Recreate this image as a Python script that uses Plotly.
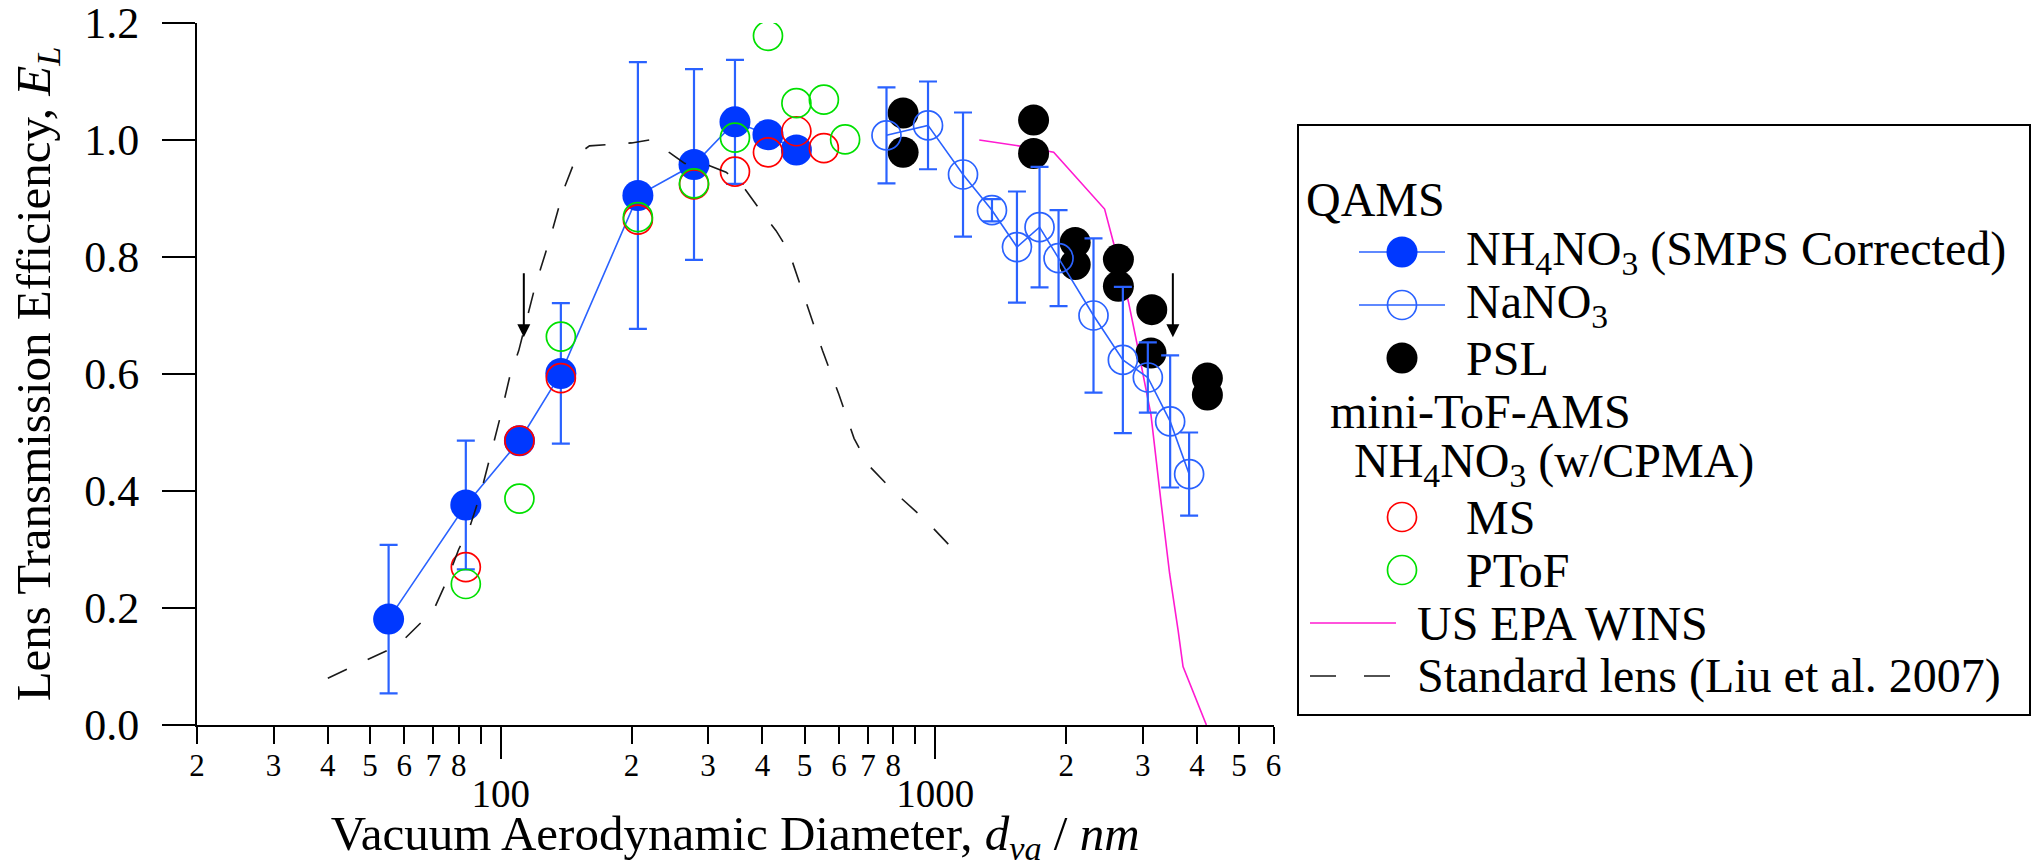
import math
import plotly.graph_objects as go

# ---------------- data ----------------
# QAMS, NH4NO3 (SMPS corrected)
nh4_d = [55.2, 83.1, 110.4, 137.5, 206.8, 278.4, 345.9, 412.0, 479.0]
nh4_el = [0.181, 0.376, 0.486, 0.601, 0.905, 0.958, 1.031, 1.009, 0.983]
nh4_err = [0.127, 0.110, None, 0.120, 0.228, 0.163, 0.106, None, None]

# QAMS, NaNO3
nano3_d = [772, 962, 1158, 1350, 1541, 1737, 1921, 2312, 2701, 3083, 3470, 3837]
nano3_el = [1.008, 1.025, 0.941, 0.880, 0.817, 0.851, 0.798, 0.700, 0.624, 0.594, 0.519, 0.429]
nano3_err = [0.082, 0.075, 0.106, 0.019, 0.095, 0.103, 0.082, 0.132, 0.125, 0.060, 0.113, 0.071]

# QAMS, PSL
psl_d = [843, 843, 1683, 1683, 2098, 2098, 2638, 2638, 3148, 3135, 4227, 4227]
psl_el = [1.046, 0.979, 1.034, 0.977, 0.825, 0.787, 0.796, 0.750, 0.710, 0.636, 0.593, 0.564]

# mini-ToF-AMS, NH4NO3 with CPMA
ms_d = [83.1, 110.4, 137.5, 206.8, 278.4, 345.9, 412.0, 479.0, 554.0]
ms_el = [0.270, 0.486, 0.593, 0.864, 0.924, 0.946, 0.979, 1.015, 0.986]
ptof_d = [83.1, 110.4, 137.5, 206.8, 278.4, 345.9, 412.0, 479.0, 554.0, 620.0]
ptof_el = [0.241, 0.387, 0.664, 0.868, 0.926, 1.004, 1.178, 1.063, 1.069, 1.001]

# US EPA WINS impactor
wins_d = [1262, 1555, 1872, 2452, 2584, 2781, 2909, 3135, 3309, 3460, 3619, 3715, 4205]
wins_el = [1.000, 0.990, 0.979, 0.882, 0.818, 0.724, 0.653, 0.530, 0.379, 0.259, 0.162, 0.100, 0.000]

# Standard lens (Liu et al. 2007)
std_d = [40, 55, 60, 70, 75, 80, 85, 90, 95, 100, 105, 110, 120, 130, 140, 150, 160,
         200, 220, 245, 265, 300, 330, 360, 400, 430, 460, 500, 550, 600, 650, 700,
         800, 950, 1100]
std_el = [0.080, 0.128, 0.147, 0.196, 0.245, 0.300, 0.340, 0.397, 0.465, 0.530, 0.597,
          0.640, 0.750, 0.833, 0.918, 0.975, 0.990, 0.995, 1.000, 0.978, 0.960, 0.957,
          0.945, 0.922, 0.875, 0.845, 0.810, 0.730, 0.640, 0.565, 0.490, 0.445,
          0.400, 0.350, 0.300]

# marked cut-off diameters
arrow_d = [113, 3520]
arrow_from, arrow_to = 0.775, 0.663

# axis ticks
label_vals = [20, 30, 40, 50, 60, 70, 80, 200, 300, 400, 500, 600, 700, 800,
              2000, 3000, 4000, 5000, 6000]
label_text = ["2", "3", "4", "5", "6", "7", "8", "2", "3", "4", "5", "6", "7", "8",
              "2", "3", "4", "5", "6"]
unlabelled_vals = [90, 900]
major_vals = [100, 1000]
major_text = ["100", "1000"]
y_ticks = [0.0, 0.2, 0.4, 0.6, 0.8, 1.0, 1.2]

# ---------------- styles ----------------
FONT = "Liberation Serif"
BLUE_FILL = "#0038ff"
BLUE_LINE = "#2a62ff"
RED = "#ff0000"
GREEN = "#00e000"
MAGENTA = "#ff1ad1"
DASH_COL = "#1a1a1a"
MSIZE = 31

W, H = 2036, 867
M_L, M_R, M_T, M_B = 197, 6, 23, 142
PW = W - M_L - M_R
PH = H - M_T - M_B
X_END = 1273.5                      # right end of the data axis (px)
LEG_X0, LEG_X1, LEG_Y0, LEG_Y1 = 1298, 2030, 125, 715
x_dom = [0, (X_END - M_L) / PW]
leg_xdom = [(LEG_X0 - M_L) / PW, (LEG_X1 - M_L) / PW]
leg_ydom = [(H - M_B - LEG_Y1) / PH, (H - M_B - LEG_Y0) / PH]
LEG_W, LEG_H = LEG_X1 - LEG_X0, LEG_Y1 - LEG_Y0

fig = go.Figure()

# the dashed curve also carries the long-tick decade axis (x2)
fig.add_trace(go.Scatter(x=std_d, y=std_el, mode="lines", xaxis="x2", yaxis="y",
                         line=dict(color=DASH_COL, width=1.6, dash="21px,23px"),
                         showlegend=False))
fig.add_trace(go.Scatter(x=wins_d, y=wins_el, mode="lines",
                         line=dict(color=MAGENTA, width=1.6), showlegend=False))
fig.add_trace(go.Scatter(x=psl_d, y=psl_el, mode="markers",
                         marker=dict(size=MSIZE, color="black", line=dict(width=0)),
                         showlegend=False))
fig.add_trace(go.Scatter(x=nano3_d, y=nano3_el, mode="lines+markers",
                         line=dict(color=BLUE_LINE, width=1.6),
                         marker=dict(size=MSIZE - 2, symbol="circle-open",
                                     color=BLUE_LINE, line=dict(width=1.7)),
                         error_y=dict(type="data", array=nano3_err, color=BLUE_LINE,
                                      thickness=2.2, width=9),
                         showlegend=False))
fig.add_trace(go.Scatter(x=nh4_d, y=nh4_el, mode="lines+markers",
                         line=dict(color=BLUE_LINE, width=1.6),
                         marker=dict(size=MSIZE, color=BLUE_FILL, line=dict(width=0)),
                         error_y=dict(type="data", array=nh4_err, color=BLUE_LINE,
                                      thickness=2.2, width=9),
                         showlegend=False))
fig.add_trace(go.Scatter(x=ms_d, y=ms_el, mode="markers",
                         marker=dict(size=MSIZE - 2, symbol="circle-open", color=RED,
                                     line=dict(width=1.7)),
                         showlegend=False))
fig.add_trace(go.Scatter(x=ptof_d, y=ptof_el, mode="markers",
                         marker=dict(size=MSIZE - 2, symbol="circle-open", color=GREEN,
                                     line=dict(width=1.7)),
                         showlegend=False))

annotations = []
for d in arrow_d:
    annotations.append(dict(x=math.log10(d), y=arrow_to, ax=math.log10(d), ay=arrow_from,
                            xref="x", yref="y", axref="x", ayref="y", text="",
                            showarrow=True, arrowhead=2, arrowsize=1.3, arrowwidth=2,
                            arrowcolor="black"))

# ---------------- hand-laid legend box ----------------
leg_axes = dict(xaxis="x3", yaxis="y3", showlegend=False, hoverinfo="skip")
rows = [74 + 53 * i for i in range(10)]
sub = "NH<sub>4</sub>NO<sub>3</sub>"
LF = 48


def leg_text(x, y, txt):
    annotations.append(dict(x=x, y=y, xref="x3", yref="y3", text=txt, showarrow=False,
                            xanchor="left", yanchor="middle",
                            font=dict(family=FONT, size=LF, color="black")))


def leg_line(x0, x1, y, **line):
    fig.add_trace(go.Scatter(x=[x0, x1], y=[y, y], mode="lines", line=line, **leg_axes))


def leg_marker(x, y, **marker):
    fig.add_trace(go.Scatter(x=[x], y=[y], mode="markers", marker=marker, **leg_axes))


SX0, SX1, SXC, TX = 61, 147, 104, 166
leg_text(6, rows[0], "QAMS")
leg_line(SX0, SX1, rows[1], color=BLUE_LINE, width=1.6)
leg_marker(SXC, rows[1], size=MSIZE, color=BLUE_FILL, line=dict(width=0))
leg_text(TX, rows[1], sub + " (SMPS Corrected)")
leg_line(SX0, SX1, rows[2], color=BLUE_LINE, width=1.6)
leg_marker(SXC, rows[2], size=MSIZE - 2, symbol="circle-open", color=BLUE_LINE,
           line=dict(width=1.7))
leg_text(TX, rows[2], "NaNO<sub>3</sub>")
leg_marker(SXC, rows[3], size=MSIZE, color="black", line=dict(width=0))
leg_text(TX, rows[3], "PSL")
leg_text(30, rows[4], "mini-ToF-AMS")
leg_text(54, rows[5], sub + " (w/CPMA)")
leg_marker(SXC, rows[6], size=MSIZE - 2, symbol="circle-open", color=RED, line=dict(width=1.7))
leg_text(TX, rows[6], "MS")
leg_marker(SXC, rows[7], size=MSIZE - 2, symbol="circle-open", color=GREEN, line=dict(width=1.7))
leg_text(TX, rows[7], "PToF")
leg_line(12, 98, rows[8], color=MAGENTA, width=1.6)
leg_text(117, rows[8], "US EPA WINS")
leg_line(12, 98, rows[9], color=DASH_COL, width=1.6, dash="26px,28px")
leg_text(117, rows[9], "Standard lens (Liu et al. 2007)")

axis_common = dict(showgrid=False, zeroline=False, ticks="outside", tickwidth=2,
                   tickcolor="black", automargin=False, ticklabeloverflow="allow")
x_range = [math.log10(20), math.log10(6000)]

fig.update_layout(
    width=W, height=H, template="none",
    paper_bgcolor="white", plot_bgcolor="white",
    margin=dict(l=M_L, r=M_R, t=M_T, b=M_B),
    font=dict(family=FONT, color="black"),
    showlegend=False,
    xaxis=dict(type="log", range=x_range, domain=x_dom, anchor="y",
               tickmode="array", tickvals=label_vals, ticktext=label_text,
               ticklen=17, tickfont=dict(size=31), ticklabelstandoff=-5,
               minor=dict(tickmode="array", tickvals=unlabelled_vals, ticks="outside",
                          ticklen=17, tickwidth=2, tickcolor="black", showgrid=False),
               showline=True, linecolor="black", linewidth=2,
               title=dict(text="Vacuum Aerodynamic Diameter, <i>d</i><sub><i>va</i></sub> / <i>nm</i>",
                          font=dict(size=49), standoff=69),
               **axis_common),
    xaxis2=dict(type="log", range=x_range, domain=x_dom, anchor="y", overlaying="x",
                side="bottom", tickmode="array", tickvals=major_vals, ticktext=major_text,
                ticklen=33, tickfont=dict(size=39), ticklabelstandoff=1, showline=False,
                **axis_common),
    yaxis=dict(range=[0, 1.2], domain=[0, 1], anchor="x", tickmode="array",
               tickvals=y_ticks, tickformat=".1f", ticklen=33, tickfont=dict(size=44),
               ticklabelstandoff=14, showline=True, linecolor="black", linewidth=2,
               title=dict(text="Lens Transmission Efficiency, <i>E<sub>L</sub></i>",
                          font=dict(size=49), standoff=18),
               **axis_common),
    xaxis3=dict(range=[0, LEG_W], domain=leg_xdom, anchor="y3", visible=False,
                fixedrange=True),
    yaxis3=dict(range=[LEG_H, 0], domain=leg_ydom, anchor="x3", visible=False,
                fixedrange=True),
    shapes=[dict(type="rect", xref="x3 domain", yref="y3 domain", x0=0, x1=1, y0=0, y1=1,
                 line=dict(color="black", width=2), fillcolor="rgba(0,0,0,0)")],
    annotations=annotations,
)

fig.write_html("out.html")
